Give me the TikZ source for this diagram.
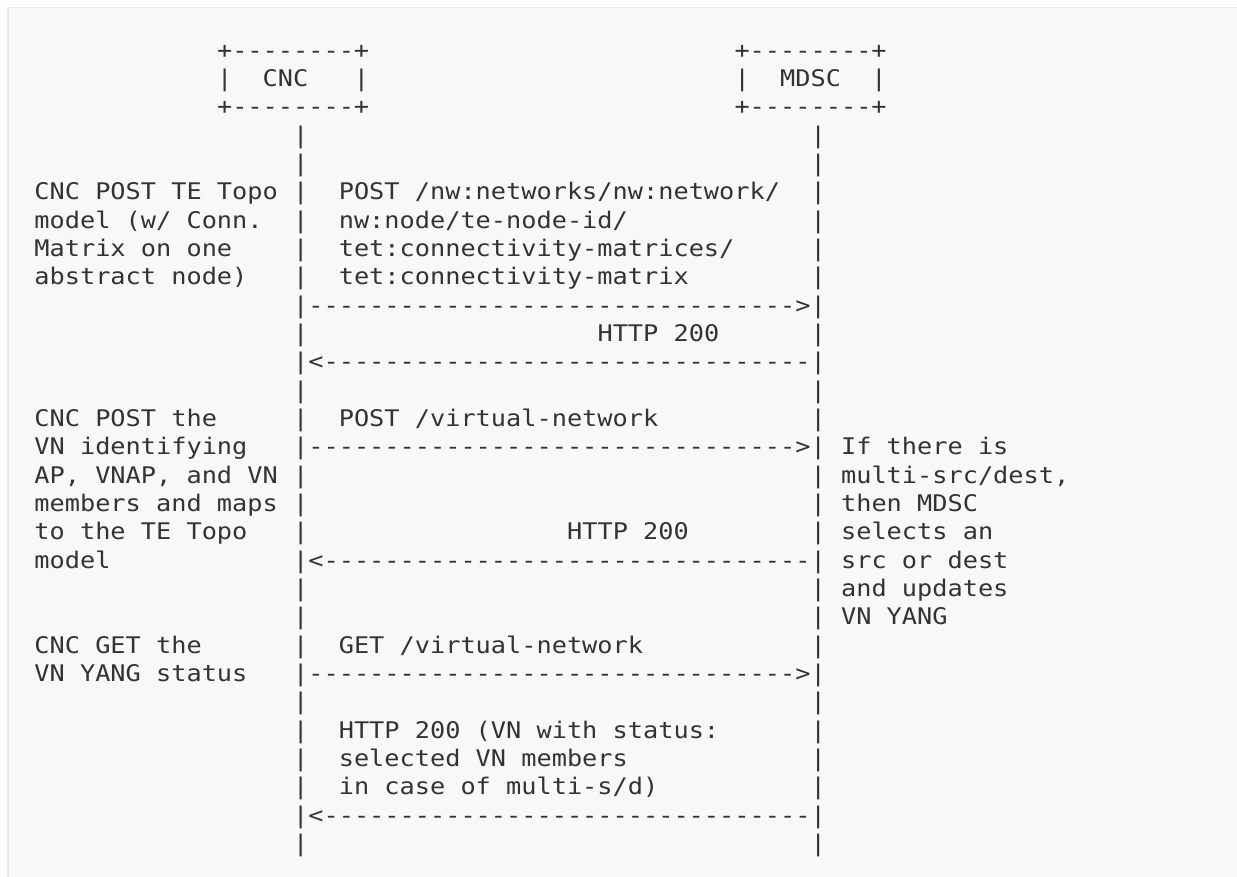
\documentclass[tikz,border=0pt]{standalone}
\usepackage{fontspec}
\setmonofont{DejaVu Sans Mono}[FakeStretch=1.1037]
\definecolor{ink}{HTML}{333333}
\definecolor{panel}{HTML}{F8F8F8}
\definecolor{panelborder}{HTML}{EAEAEA}
\tikzset{
  mono/.style={anchor=base west, inner sep=0pt, outer sep=0pt, text=ink,
    font=\ttfamily\fontsize{22.9}{28.33}\selectfont},
}
% place a text segment at a character cell (column, row)
\newcommand\putseg[4]{\node[mono] (#1) at ({34.4+(#2)*15.22},{58.3+(#3)*28.33}) {#4};}
\begin{document}
\begin{tikzpicture}[x=1pt,y=-1pt]
\useasboundingbox (0,0) rectangle (1237,876);
\fill[white] (0,0) rectangle (1237,876);
\draw[fill=panel, draw=panelborder, line width=1.5pt] (8,7.5) rectangle (1245,885);

% boxes
\putseg{cncTop}{12}{0}{+--------+}
\putseg{cnc}{12}{1}{|~~CNC~~~|}
\putseg{cncBot}{12}{2}{+--------+}
\putseg{mdscTop}{46}{0}{+--------+}
\putseg{mdsc}{46}{1}{|~~MDSC~~|}
\putseg{mdscBot}{46}{2}{+--------+}

% lifelines
\foreach \r in {3,...,28}{
  \putseg{cncL\r}{17}{\r}{|}
  \putseg{mdscL\r}{51}{\r}{|}
}

% left notes
\putseg{nA1}{0}{5}{CNC POST TE Topo}
\putseg{nA2}{0}{6}{model (w/ Conn.}
\putseg{nA3}{0}{7}{Matrix on one}
\putseg{nA4}{0}{8}{abstract node)}
\putseg{nB1}{0}{13}{CNC POST the}
\putseg{nB2}{0}{14}{VN identifying}
\putseg{nB3}{0}{15}{AP, VNAP, and VN}
\putseg{nB4}{0}{16}{members and maps}
\putseg{nB5}{0}{17}{to the TE Topo}
\putseg{nB6}{0}{18}{model}
\putseg{nC1}{0}{21}{CNC GET the}
\putseg{nC2}{0}{22}{VN YANG status}

% messages
\putseg{m1a}{20}{5}{POST /nw:networks/nw:network/}
\putseg{m1b}{20}{6}{nw:node/te-node-id/}
\putseg{m1c}{20}{7}{tet:connectivity-matrices/}
\putseg{m1d}{20}{8}{tet:connectivity-matrix}
\putseg{a1}{18}{9}{-------------------------------->}
\putseg{r1}{37}{10}{HTTP 200}
\putseg{a2}{18}{11}{<--------------------------------}
\putseg{m2}{20}{13}{POST /virtual-network}
\putseg{a3}{18}{14}{-------------------------------->}
\putseg{r2}{35}{17}{HTTP 200}
\putseg{a4}{18}{18}{<--------------------------------}
\putseg{m3}{20}{21}{GET /virtual-network}
\putseg{a5}{18}{22}{-------------------------------->}
\putseg{r3a}{20}{24}{HTTP 200 (VN with status:}
\putseg{r3b}{20}{25}{selected VN members}
\putseg{r3c}{20}{26}{in case of multi-s/d)}
\putseg{a6}{18}{27}{<--------------------------------}

% right note
\putseg{nD1}{53}{14}{If there is}
\putseg{nD2}{53}{15}{multi-src/dest,}
\putseg{nD3}{53}{16}{then MDSC}
\putseg{nD4}{53}{17}{selects an}
\putseg{nD5}{53}{18}{src or dest}
\putseg{nD6}{53}{19}{and updates}
\putseg{nD7}{53}{20}{VN YANG}
\end{tikzpicture}
\end{document}
